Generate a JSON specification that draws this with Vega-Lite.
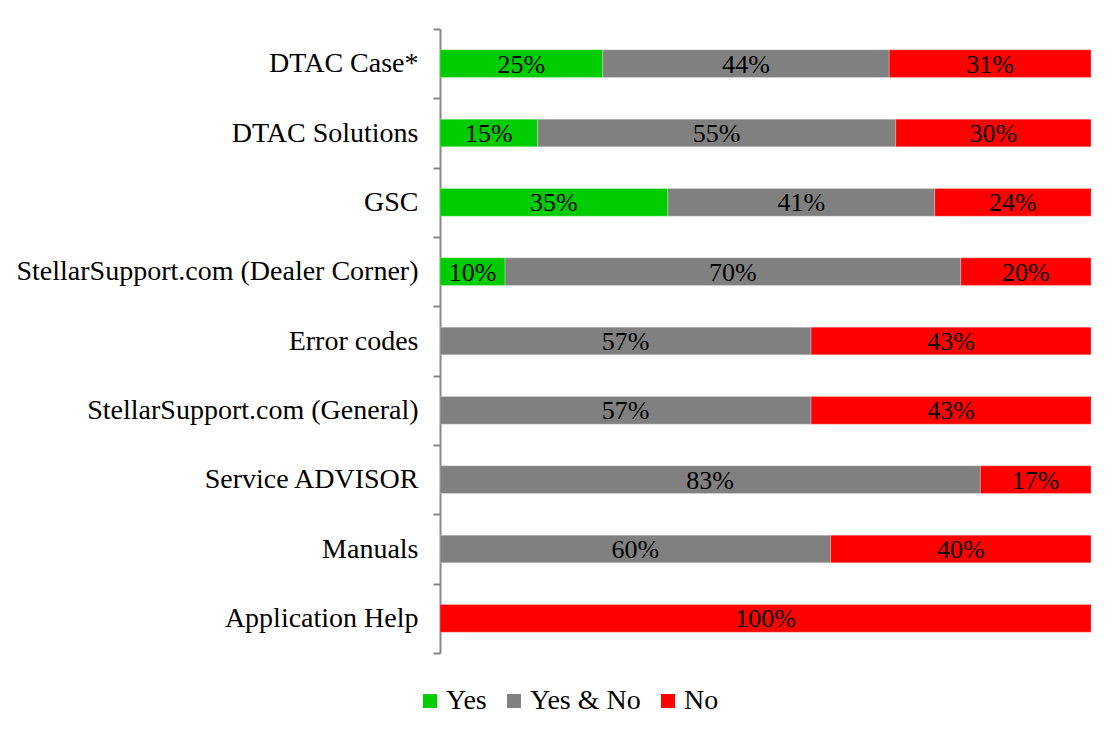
{
  "$schema": "https://vega.github.io/schema/vega-lite/v6.json",
  "width": 651,
  "height": 624,
  "autosize": {"type": "none"},
  "padding": {"left": 440, "top": 29, "right": 22, "bottom": 79},
  "background": "white",
  "config": {
    "font": "Liberation Serif",
    "view": {"stroke": null}
  },
  "data": {
    "values": [
      {"category": "DTAC Case*", "response": "Yes", "ord": 1, "value": 0.25},
      {"category": "DTAC Case*", "response": "Yes & No", "ord": 2, "value": 0.44},
      {"category": "DTAC Case*", "response": "No", "ord": 3, "value": 0.31},
      {"category": "DTAC Solutions", "response": "Yes", "ord": 1, "value": 0.15},
      {"category": "DTAC Solutions", "response": "Yes & No", "ord": 2, "value": 0.55},
      {"category": "DTAC Solutions", "response": "No", "ord": 3, "value": 0.30},
      {"category": "GSC", "response": "Yes", "ord": 1, "value": 0.35},
      {"category": "GSC", "response": "Yes & No", "ord": 2, "value": 0.41},
      {"category": "GSC", "response": "No", "ord": 3, "value": 0.24},
      {"category": "StellarSupport.com (Dealer Corner)", "response": "Yes", "ord": 1, "value": 0.10},
      {"category": "StellarSupport.com (Dealer Corner)", "response": "Yes & No", "ord": 2, "value": 0.70},
      {"category": "StellarSupport.com (Dealer Corner)", "response": "No", "ord": 3, "value": 0.20},
      {"category": "Error codes", "response": "Yes & No", "ord": 2, "value": 0.57},
      {"category": "Error codes", "response": "No", "ord": 3, "value": 0.43},
      {"category": "StellarSupport.com (General)", "response": "Yes & No", "ord": 2, "value": 0.57},
      {"category": "StellarSupport.com (General)", "response": "No", "ord": 3, "value": 0.43},
      {"category": "Service ADVISOR", "response": "Yes & No", "ord": 2, "value": 0.83},
      {"category": "Service ADVISOR", "response": "No", "ord": 3, "value": 0.17},
      {"category": "Manuals", "response": "Yes & No", "ord": 2, "value": 0.60},
      {"category": "Manuals", "response": "No", "ord": 3, "value": 0.40},
      {"category": "Application Help", "response": "No", "ord": 3, "value": 1.00}
    ]
  },
  "encoding": {
    "y": {
      "field": "category",
      "type": "nominal",
      "sort": null,
      "scale": {"paddingInner": 0, "paddingOuter": 0},
      "axis": {
        "title": null,
        "domainColor": "#868686",
        "domainWidth": 2,
        "tickColor": "#868686",
        "tickWidth": 2,
        "tickSize": 7,
        "tickBand": "extent",
        "labelFont": "Liberation Serif",
        "labelFontSize": 28,
        "labelColor": "black",
        "labelPadding": 15,
        "labelLimit": 600
      }
    }
  },
  "layer": [
    {
      "mark": {"type": "bar", "height": {"band": 0.4}, "stroke": "white", "strokeWidth": 0.5, "strokeOpacity": 0.5},
      "encoding": {
        "x": {"field": "value", "type": "quantitative", "stack": "zero", "scale": {"domain": [0, 1], "nice": false}, "axis": null},
        "color": {
          "field": "response",
          "type": "nominal",
          "scale": {"domain": ["Yes", "Yes & No", "No"], "range": ["#00CC00", "#808080", "#FF0000"]},
          "legend": {
            "title": null,
            "orient": "none",
            "direction": "horizontal",
            "legendX": -24,
            "legendY": 658,
            "padding": 0,
            "symbolType": "square",
            "symbolSize": 196,
            "symbolStrokeWidth": 0,
            "labelFont": "Liberation Serif",
            "labelFontSize": 28,
            "labelColor": "black",
            "labelOffset": 2,
            "columnPadding": 13
          }
        },
        "order": {"field": "ord", "type": "quantitative"}
      }
    },
    {
      "mark": {"type": "text", "font": "Liberation Serif", "fontSize": 26, "color": "black", "baseline": "middle", "align": "center", "dy": 1},
      "encoding": {
        "x": {"field": "value", "type": "quantitative", "stack": "zero", "bandPosition": 0.5},
        "text": {"field": "value", "type": "quantitative", "format": ".0%"},
        "order": {"field": "ord", "type": "quantitative"}
      }
    }
  ]
}
